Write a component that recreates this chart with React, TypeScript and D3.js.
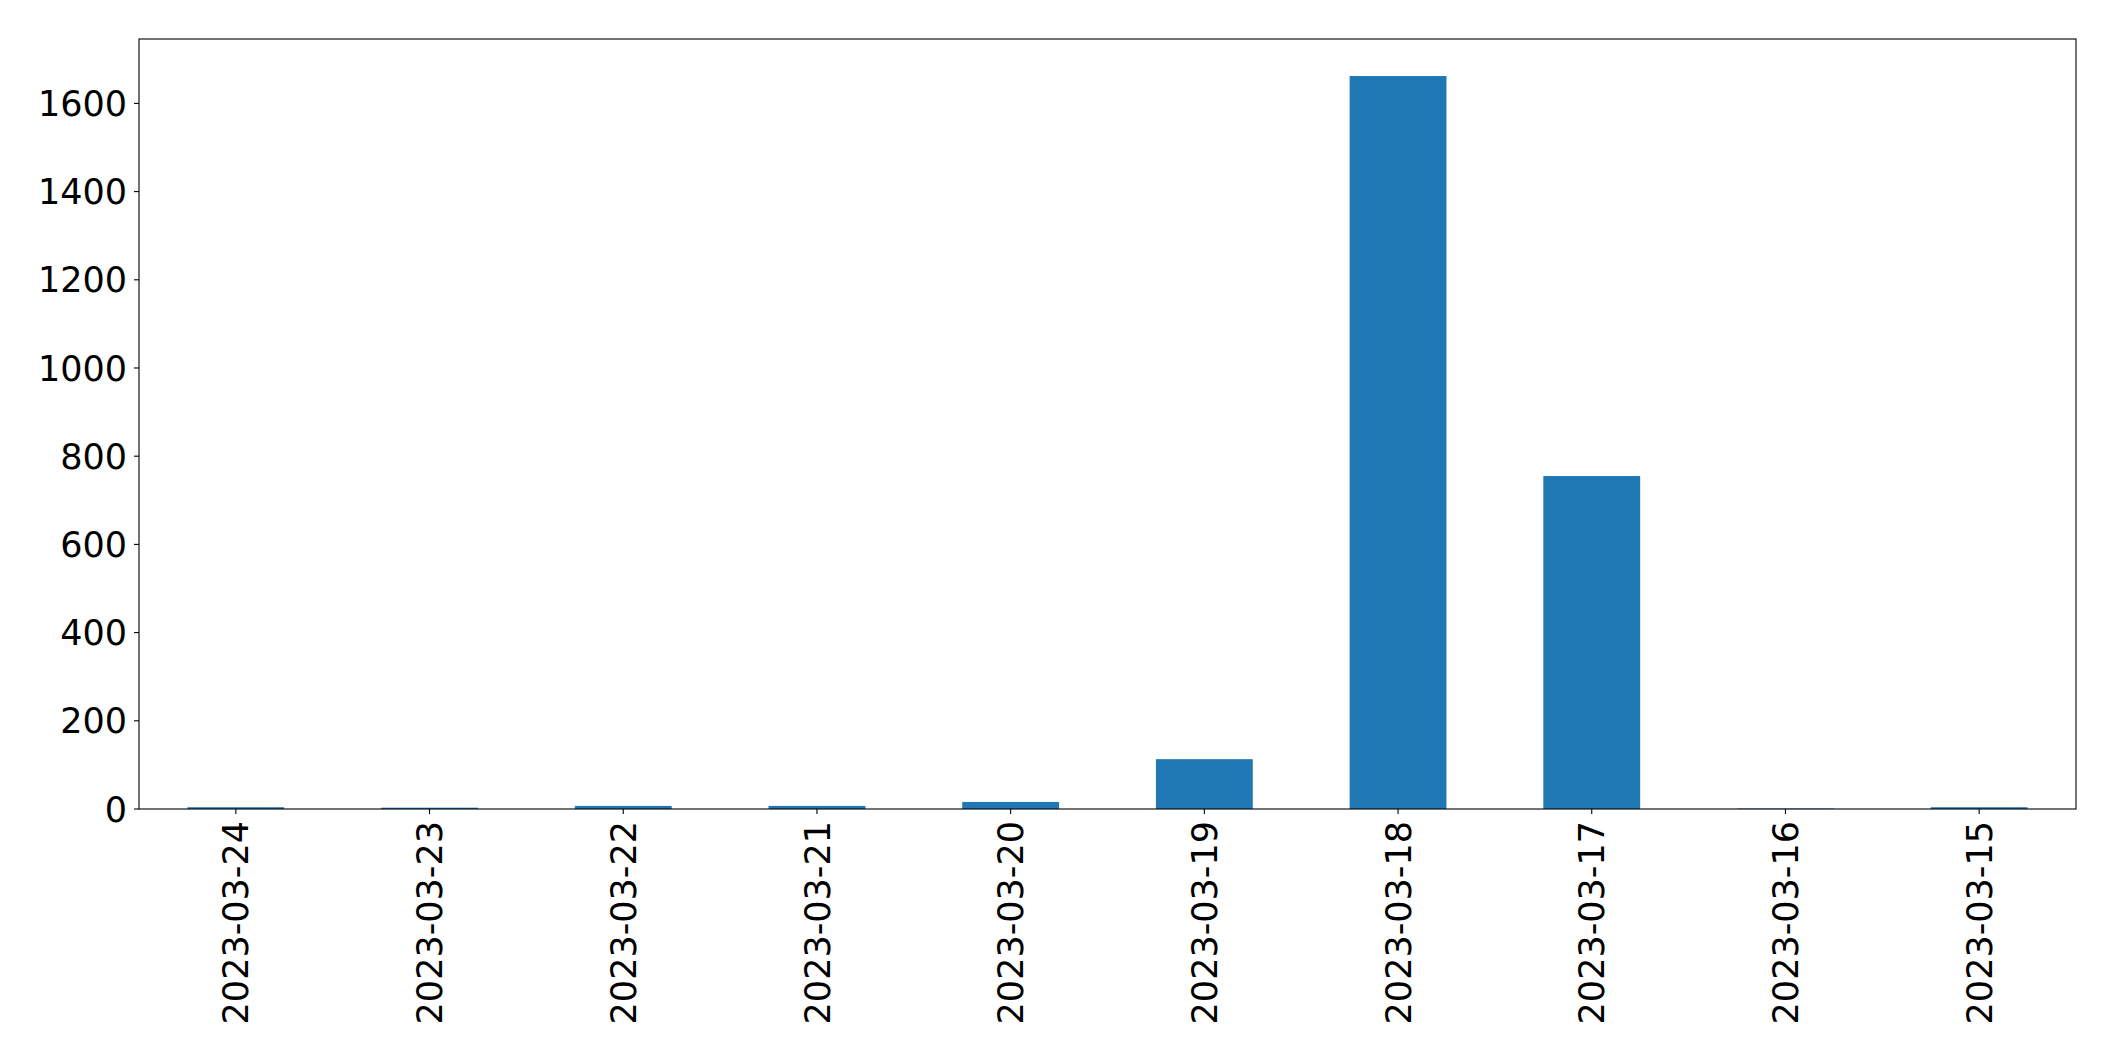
import React from "react";
import * as d3 from "d3";

const categories = [
  "2023-03-24", "2023-03-23", "2023-03-22", "2023-03-21", "2023-03-20",
  "2023-03-19", "2023-03-18", "2023-03-17", "2023-03-16", "2023-03-15",
];
const values = [4, 3, 7, 7, 16, 113, 1662, 755, 1, 4];
const yTicks = [0, 200, 400, 600, 800, 1000, 1200, 1400, 1600];

const W = 2115;
const H = 1061;
const M = { left: 139, right: 2076, top: 39, bottom: 809 };

export default function App() {
  const x = d3
    .scaleLinear()
    .domain([-0.5, categories.length - 0.5])
    .range([M.left, M.right]);
  const y = d3.scaleLinear().domain([0, 1746]).range([M.bottom, M.top]);
  const barW = x(0.25) - x(-0.25);
  const font = "DejaVu Sans, sans-serif";
  const fs = 35;
  return (
    <svg
      width={W}
      height={H}
      style={{ position: "absolute", left: 0, top: 0, background: "#fff" }}
    >
      <rect x={0} y={0} width={W} height={H} fill="#fff" />
      {values.map((v, i) => (
        <rect
          key={i}
          x={x(i) - barW / 2}
          y={y(v)}
          width={barW}
          height={y(0) - y(v)}
          fill="#1f77b4"
        />
      ))}
      <rect
        x={M.left}
        y={M.top}
        width={M.right - M.left}
        height={M.bottom - M.top}
        fill="none"
        stroke="#000"
        strokeWidth={1.1}
      />
      {yTicks.map((t) => (
        <g key={t}>
          <line x1={M.left - 5} x2={M.left} y1={y(t)} y2={y(t)} stroke="#000" strokeWidth={1.1} />
          <text
            x={M.left - 12}
            y={y(t)}
            dy="0.36em"
            textAnchor="end"
            fontFamily={font}
            fontSize={fs}
            fill="#000"
          >
            {t}
          </text>
        </g>
      ))}
      {categories.map((c, i) => (
        <g key={c}>
          <line x1={x(i)} x2={x(i)} y1={M.bottom} y2={M.bottom + 5} stroke="#000" strokeWidth={1.1} />
          <text
            transform={`translate(${x(i)},${M.bottom + 12}) rotate(-90)`}
            dy="0.36em"
            textAnchor="end"
            fontFamily={font}
            fontSize={fs}
            fill="#000"
          >
            {c}
          </text>
        </g>
      ))}
    </svg>
  );
}
